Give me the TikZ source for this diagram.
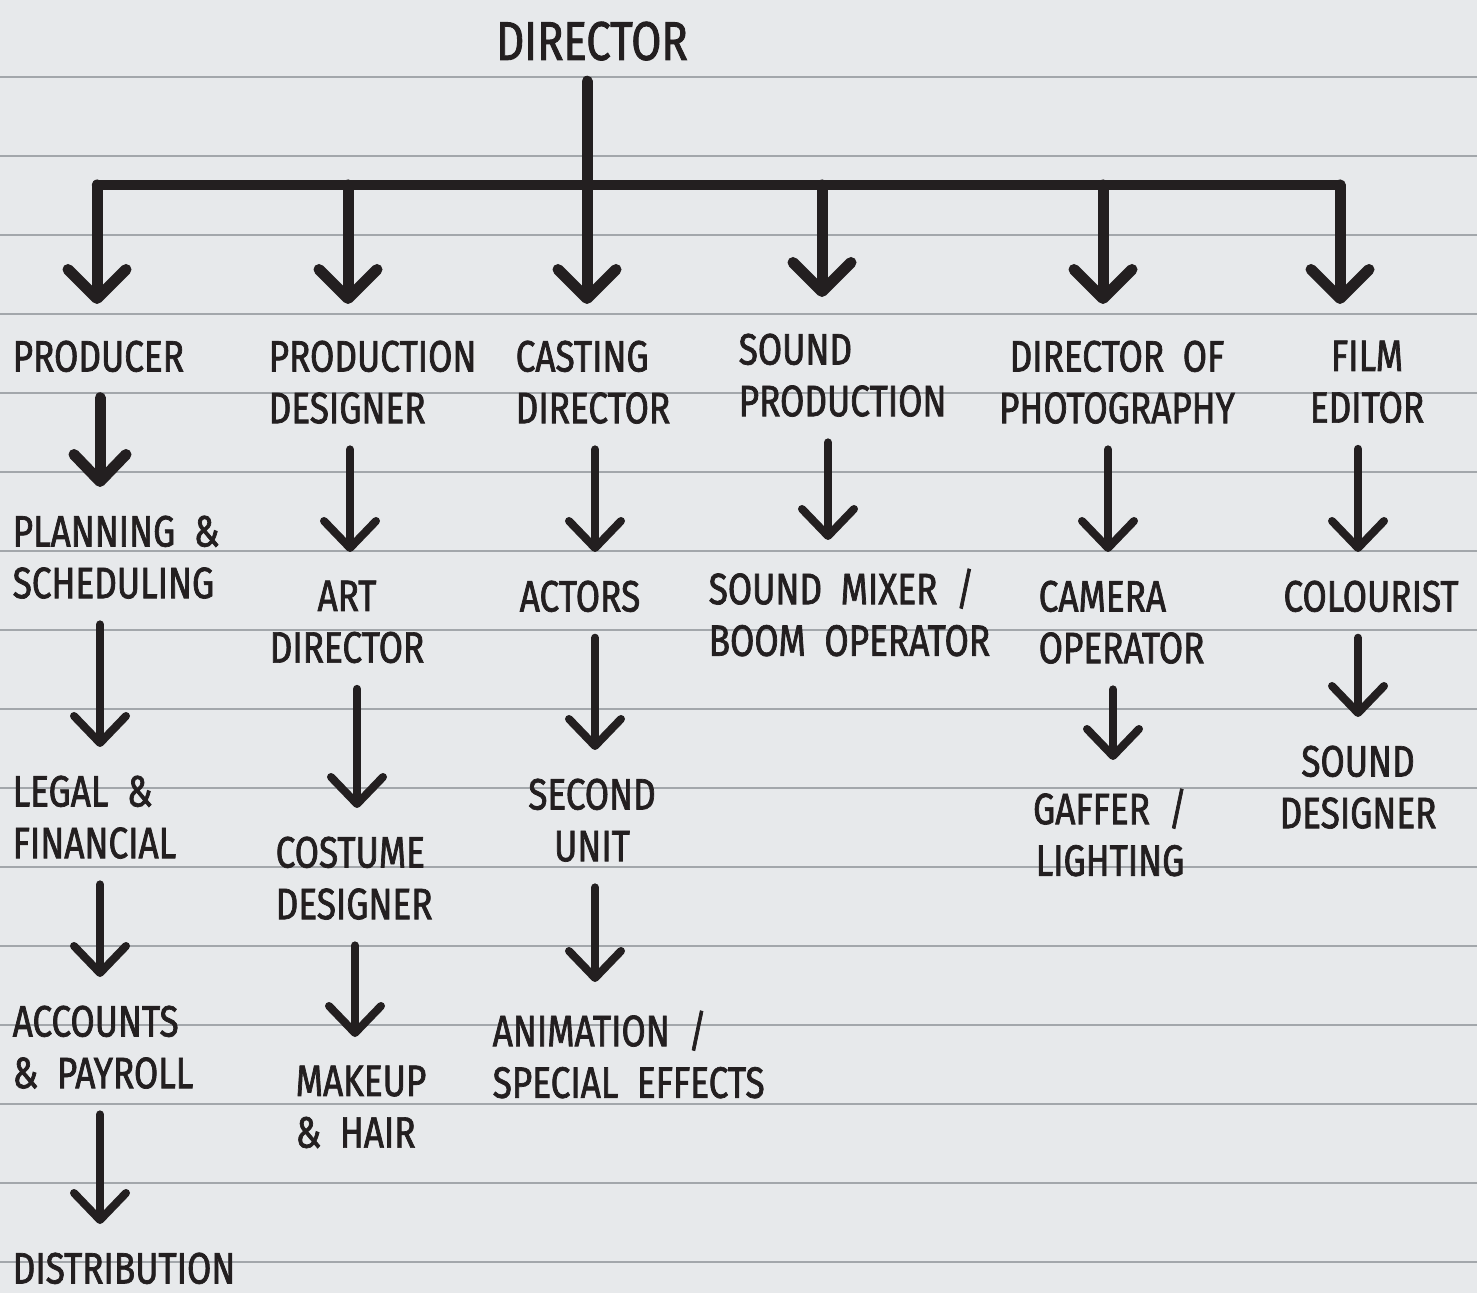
\documentclass[tikz,border=0pt]{standalone}
\usepackage{fontspec}
\setmainfont{Fira Sans}[FakeStretch=0.80, FakeBold=1.6, WordSpace=2]
\usetikzlibrary{arrows.meta}
\definecolor{paper}{HTML}{E7E9EB}
\definecolor{rulecol}{HTML}{A3A7AB}
\definecolor{ink}{HTML}{231F20}
\begin{document}
\begin{tikzpicture}[x=0.1mm,y=-0.1mm,
  lbl/.style={inner sep=0pt, font=\fontsize{12.5}{14.7}\selectfont, text=ink},
  lblL/.style={lbl, anchor=north west, align=left},
  lblC/.style={lbl, anchor=north, align=center},
  paperline/.style={draw=rulecol, line width=0.2mm},
  barline/.style={draw=ink, line width=1.05mm, line cap=round},
  mainarr/.style={draw=ink, line width=1.1mm, line cap=round,
    -{Straight Barb[length=2.9mm,width=5.8mm,round]}, shorten <=2mm, shorten >=3.6mm},
  arr/.style={draw=ink, line width=0.8mm, line cap=round,
    -{Straight Barb[length=2.7mm,width=5.2mm,round]}, shorten <=2.5mm, shorten >=2.8mm},
  thickarr/.style={arr, line width=1.1mm}]
\useasboundingbox (0,0) rectangle (1477,1293);
\fill[paper] (0,0) rectangle (1477,1293);
\foreach \k in {0,...,15} {\draw[paperline] (0,{77+79*\k}) -- (1477,{77+79*\k});}
\draw[paperline] (0,-1) -- (1477,-1);

% nodes
\node[lblC, font=\fontsize{15.5}{17}\selectfont] (dir) at (592,21) {DIRECTOR};

\node[lblL] (prod) at (12,340) {PRODUCER};
\node[lblL] (pdes) at (268,340) {PRODUCTION\\DESIGNER};
\node[lblL] (cast) at (515,340) {CASTING\\DIRECTOR};
\node[lblL] (sndp) at (738,333) {SOUND\\PRODUCTION};
\node[lblC] (dop) at (1117,340) {DIRECTOR OF\\PHOTOGRAPHY};
\node[lblC] (film) at (1367,340) {FILM\\EDITOR};

\node[lblL] (plan) at (12,515) {PLANNING \&\\SCHEDULING};
\node[lblC] (art) at (347,580) {ART\\DIRECTOR};
\node[lblC] (act) at (580,580) {ACTORS};
\node[lblL] (mix) at (708,568) {SOUND MIXER /\\BOOM OPERATOR};
\node[lblL] (cam) at (1038,580) {CAMERA\\OPERATOR};
\node[lblC] (col) at (1371,580) {COLOURIST};

\node[lblL] (legal) at (12,775) {LEGAL \&\\FINANCIAL};
\node[lblL] (cost) at (275,836) {COSTUME\\DESIGNER};
\node[lblC] (sec) at (592,778) {SECOND\\UNIT};
\node[lblC] (gaf) at (1110,788) {GAFFER /\\LIGHTING};
\node[lblC] (sdes) at (1358,745) {SOUND\\DESIGNER};

\node[lblL] (acc) at (12,1005) {ACCOUNTS\\\& PAYROLL};
\node[lblL] (make) at (295,1065) {MAKEUP\\\& HAIR};
\node[lblL] (anim) at (492,1010) {ANIMATION /\\SPECIAL EFFECTS};

\node[lblL] (dist) at (12,1252) {DISTRIBUTION};

% top bar
\coordinate (bar) at (587,185);
\draw[barline] (bar -| 97,0) -- (bar -| 1340,0);
\draw[mainarr] (dir.south -| 587,0) -- (cast.north -| 587,0);
\draw[mainarr, shorten <=0mm] (bar -| 97,0) -- (prod.north -| 97,0);
\draw[mainarr, shorten <=0mm] (bar -| 348,0) -- (pdes.north -| 348,0);
\draw[mainarr, shorten <=0mm] (bar -| 822,0) -- (sndp.north -| 822,0);
\draw[mainarr, shorten <=0mm] (bar -| 1103,0) -- (dop.north -| 1103,0);
\draw[mainarr, shorten <=0mm] (bar -| 1340,0) -- (film.north -| 1340,0);

% columns
\draw[thickarr] (prod.south -| 100,0) -- (plan.north -| 100,0);
\draw[arr] (plan.south -| 100,0) -- (legal.north -| 100,0);
\draw[arr] (legal.south -| 100,0) -- (acc.north -| 100,0);
\draw[arr] (acc.south -| 100,0) -- (dist.north -| 100,0);

\draw[arr] (pdes.south -| 350,0) -- (art.north -| 350,0);
\draw[arr] (art.south -| 357,0) -- (cost.north -| 357,0);
\draw[arr] (cost.south -| 355,0) -- (make.north -| 355,0);

\draw[arr] (cast.south -| 595,0) -- (act.north -| 595,0);
\draw[arr] (act.south -| 595,0) -- (sec.north -| 595,0);
\draw[arr] (sec.south -| 595,0) -- (anim.north -| 595,0);

\draw[arr] (sndp.south -| 828,0) -- (mix.north -| 828,0);

\draw[arr] (dop.south -| 1108,0) -- (cam.north -| 1108,0);
\draw[arr] (cam.south -| 1113,0) -- (gaf.north -| 1113,0);

\draw[arr] (film.south -| 1358,0) -- (col.north -| 1358,0);
\draw[arr] (col.south -| 1358,0) -- (sdes.north -| 1358,0);
\end{tikzpicture}
\end{document}
